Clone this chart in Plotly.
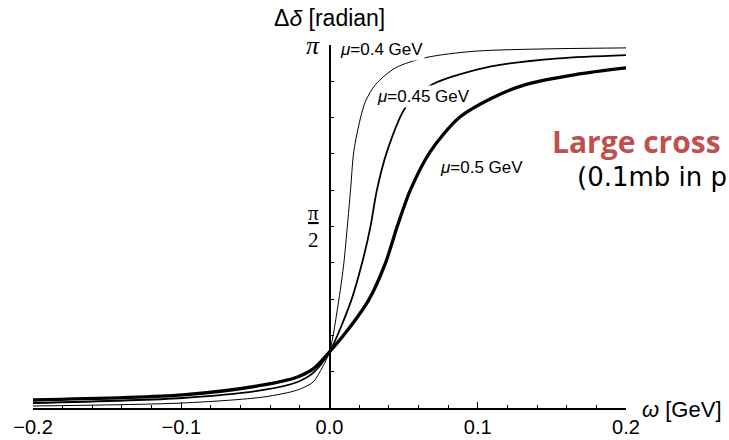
import numpy as np
import plotly.graph_objects as go

# Phase-shift difference curves, Δδ in units of π, versus ω [GeV]
omega_mu040 = [-0.2, -0.099, -0.0445, -0.0216, -0.011, -0.0047, 0.0, 0.0063, 0.0097,
               0.012, 0.0142, 0.0164, 0.0209, 0.0243, 0.031, 0.0445, 0.0647, 0.0985, 0.2]
delta_mu040 = [0.0055, 0.0138, 0.0303, 0.0497, 0.0717, 0.113, 0.1545, 0.298, 0.40,
               0.499, 0.601, 0.707, 0.799, 0.845, 0.891, 0.937, 0.965, 0.983, 0.992]

omega_mu045 = [-0.2, -0.099, -0.0445, -0.0216, -0.011, 0.0, 0.0148, 0.022, 0.0276,
               0.032, 0.039, 0.0512, 0.0692, 0.1097, 0.1546, 0.2]
delta_mu045 = [0.0138, 0.0276, 0.0497, 0.0717, 0.0966, 0.1545, 0.298, 0.40, 0.499,
               0.601, 0.709, 0.827, 0.891, 0.9415, 0.963, 0.972]

omega_mu050 = [-0.2, -0.099, -0.0445, -0.0216, -0.011, 0.0, 0.0108, 0.0265, 0.0378,
               0.0456, 0.0546, 0.0681, 0.0872, 0.1097, 0.1322, 0.1659, 0.2]
delta_mu050 = [0.0221, 0.0359, 0.0634, 0.0855, 0.1076, 0.1545, 0.207, 0.298, 0.40,
               0.499, 0.601, 0.707, 0.799, 0.854, 0.891, 0.9186, 0.937]

x_ticks = [-0.2, -0.1, 0.0, 0.1, 0.2]
y_ticks_pi = [k / 10 for k in range(1, 11)]

SANS = "Liberation Sans"
SERIF = "Liberation Serif"

fig = go.Figure()
for om, de, w in [(omega_mu040, delta_mu040, 1.0),
                  (omega_mu045, delta_mu045, 1.8),
                  (omega_mu050, delta_mu050, 3.3)]:
    fig.add_trace(go.Scatter(
        x=om, y=np.pi * np.array(de), mode="lines",
        line=dict(color="black", width=w, shape="spline", smoothing=0.8),
        showlegend=False, hoverinfo="skip"))

fig.update_layout(
    width=729, height=440,
    margin=dict(l=33, r=103, t=45, b=32, autoexpand=False),
    paper_bgcolor="white", plot_bgcolor="white",
    font=dict(family=SANS, color="black"),
    xaxis=dict(
        range=[-0.2, 0.2], tickmode="array", tickvals=x_ticks, tickformat=".1f",
        ticks="inside", ticklen=6, tickwidth=1, tickcolor="black",
        showline=True, linecolor="black", linewidth=1.5,
        showgrid=False, zeroline=False, automargin=False,
        minor=dict(tick0=0, dtick=0.02, ticks="inside", ticklen=3,
                   tickwidth=1, tickcolor="black", showgrid=False),
        tickfont=dict(size=20, family=SANS, color="black"),
        layer="above traces",
    ),
    yaxis=dict(
        range=[0, np.pi], anchor="free", position=0.5,
        tickmode="array", tickvals=[v * np.pi for v in y_ticks_pi],
        showticklabels=False, automargin=False,
        ticks="inside", ticklen=4, tickwidth=1, tickcolor="black",
        showline=True, linecolor="black", linewidth=1.5,
        showgrid=False, zeroline=False, layer="above traces",
    ),
)

annotations = [
    # axis titles
    dict(text="Δ<i>δ</i> [radian]", xref="x", x=0, xanchor="center",
         yref="paper", y=1, yanchor="middle", yshift=27,
         font=dict(size=23, family=SANS)),
    dict(text="<i>ω</i> [GeV]", xref="paper", x=1, xanchor="left", xshift=14,
         yref="y", y=0, yanchor="middle", yshift=-1,
         font=dict(size=22, family=SANS)),
    # y tick labels π and π/2
    dict(text="<i>π</i>", xref="x", x=0, xanchor="right", xshift=-8,
         yref="y", y=np.pi, yanchor="middle", yshift=0,
         font=dict(size=26, family=SERIF)),
    dict(text="<u>π</u><br>2", xref="x", x=0, xanchor="center", xshift=-16,
         yref="y", y=np.pi / 2, yanchor="middle", yshift=0,
         font=dict(size=21, family=SERIF)),
    # curve labels
    dict(text="<i>μ</i>=0.4 GeV", xref="x", x=0.0057, xanchor="left",
         yref="y", y=0.9876 * np.pi, yanchor="middle",
         bgcolor="white", borderpad=1, font=dict(size=17, family=SANS)),
    dict(text="<i>μ</i>=0.45 GeV", xref="x", x=0.0307, xanchor="left",
         yref="y", y=0.858 * np.pi, yanchor="middle",
         bgcolor="white", borderpad=1, font=dict(size=17, family=SANS)),
    dict(text="<i>μ</i>=0.5 GeV", xref="x", x=0.0732, xanchor="left",
         yref="y", y=0.662 * np.pi, yanchor="middle",
         bgcolor="white", borderpad=1, font=dict(size=17, family=SANS)),
    # side notes
    dict(text="<b>Large cross</b>", xref="paper", x=0.8718, xanchor="left",
         yref="paper", y=0.733, yanchor="middle",
         font=dict(size=30, family="Open Sans", color="#C0504D")),
    dict(text="(0.1mb in p", xref="paper", x=0.9140, xanchor="left",
         yref="paper", y=0.636, yanchor="middle",
         font=dict(size=26, family="DejaVu Sans", color="black")),
]
for a in annotations:
    a.setdefault("showarrow", False)
fig.update_layout(annotations=annotations)

fig.write_html("out.html")
